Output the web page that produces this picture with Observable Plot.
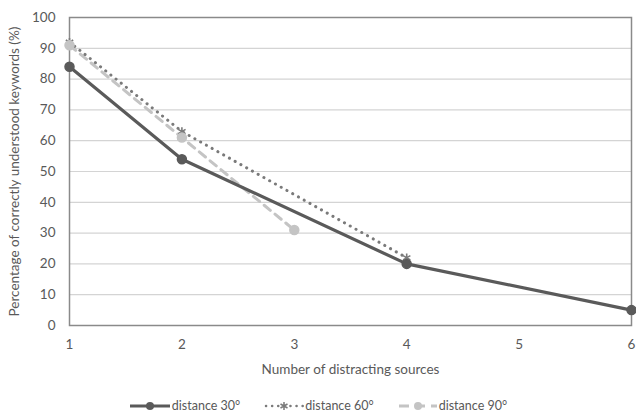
<!DOCTYPE html>
<html>
<head>
<meta charset="utf-8">
<script src="https://cdn.jsdelivr.net/npm/d3@7"></script>
<script src="https://cdn.jsdelivr.net/npm/@observablehq/plot@0.6"></script>
<style>
  html, body { margin: 0; padding: 0; background: #fff; }
  body { width: 636px; height: 419px; overflow: hidden; font-family: Lato, "Open Sans", sans-serif; color: #595959; }
  #legend { position: absolute; top: 398px; left: 0; width: 636px; display: flex; justify-content: center; gap: 24px; font-size: 12.5px; color: #595959; }
  #legend .item { display: flex; align-items: center; gap: 1px; }
</style>
</head>
<body>
<div id="chart"></div>
<div id="legend"></div>
<script>
// Data
const seriesNames = ["distance 30°", "distance 60°", "distance 90°"];
const x30 = [1, 2, 4, 6];
const y30 = [84, 54, 20, 5];
const x60 = [1, 2, 4];
const y60 = [92, 63, 22];
const x90 = [1, 2, 3];
const y90 = [91, 61, 31];
const xTicks = [1, 2, 3, 4, 5, 6];
const yTicks = [0, 10, 20, 30, 40, 50, 60, 70, 80, 90, 100];
const xLabel = "Number of distracting sources";
const yLabel = "Percentage of correctly understood keywords (%)";

const toRows = (xs, ys) => xs.map((x, i) => ({x, y: ys[i]}));
const d30 = toRows(x30, y30);
const d60 = toRows(x60, y60);
const d90 = toRows(x90, y90);

const c30 = "#5a5a5a", c60 = "#7a7a7a", c90 = "#c4c4c4";

const chart = Plot.plot({
  width: 636,
  height: 385,
  marginLeft: 69,
  marginRight: 5,
  marginTop: 17,
  marginBottom: 60,
  style: {fontFamily: "Lato, 'Open Sans', sans-serif", fontSize: "13.5px", color: "#595959", background: "#fff"},
  x: {domain: [1, 6], ticks: xTicks, tickFormat: "d", tickSize: 0, tickPadding: 14, label: xLabel, labelAnchor: "center", labelOffset: 48, labelArrow: "none"},
  y: {domain: [0, 100], ticks: yTicks, tickFormat: "d", tickSize: 0, tickPadding: 14, label: yLabel, labelAnchor: "center", labelOffset: 60, labelArrow: "none"},
  marks: [
    Plot.ruleY(yTicks, {stroke: "#d4d4d4", strokeWidth: 1.2}),
    Plot.frame({stroke: "#8a8a8a", strokeWidth: 1.5}),
    Plot.line(d90, {x: "x", y: "y", stroke: c90, strokeWidth: 3, strokeDasharray: "8,6"}),
    Plot.line(d60, {x: "x", y: "y", stroke: c60, strokeWidth: 3, strokeDasharray: "0.1,6.5", strokeLinecap: "round"}),
    Plot.line(d30, {x: "x", y: "y", stroke: c30, strokeWidth: 3.2}),
    Plot.dot(d60, {x: "x", y: "y", symbol: "asterisk", r: 4, stroke: c60, strokeWidth: 1.6}),
    Plot.dot(d30, {x: "x", y: "y", r: 4.5, fill: c30, stroke: c30}),
    Plot.dot(d90, {x: "x", y: "y", r: 4.5, fill: c90, stroke: c90})
  ]
});
document.getElementById("chart").appendChild(chart);

// Legend
const legend = document.getElementById("legend");
const samples = [
  `<svg width="42" height="12"><line x1="1" y1="6" x2="41" y2="6" stroke="${c30}" stroke-width="3"/><circle cx="21" cy="6" r="4" fill="${c30}"/></svg>`,
  `<svg width="40" height="12"><line x1="2" y1="6" x2="39" y2="6" stroke="${c60}" stroke-width="2.5" stroke-dasharray="0.1,6" stroke-linecap="round"/><path d="M20,2v8M16.5,4l7,4M16.5,8l7,-4" stroke="${c60}" stroke-width="1.5"/></svg>`,
  `<svg width="40" height="12"><line x1="1" y1="6" x2="39" y2="6" stroke="${c90}" stroke-width="3" stroke-dasharray="10,6"/><circle cx="20" cy="6" r="4" fill="${c90}"/></svg>`
];
seriesNames.forEach((name, i) => {
  const it = document.createElement("div");
  it.className = "item";
  it.innerHTML = samples[i] + `<span>${name}</span>`;
  legend.appendChild(it);
});
</script>
</body>
</html>
